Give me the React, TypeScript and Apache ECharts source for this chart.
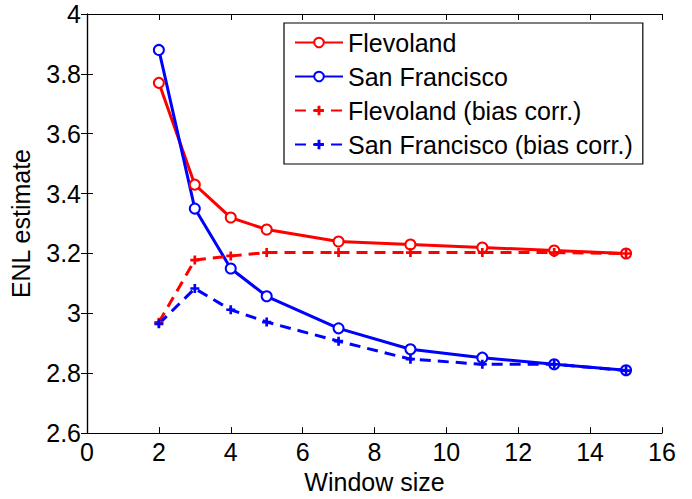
import React, { useEffect, useRef } from "react";
import * as echarts from "echarts";

const windowSizes = [2, 3, 4, 5, 7, 9, 11, 13, 15];
const flevoland = [3.77, 3.43, 3.32, 3.28, 3.24, 3.23, 3.22, 3.21, 3.2];
const sanFrancisco = [3.88, 3.35, 3.15, 3.057, 2.95, 2.88, 2.852, 2.83, 2.81];
const flevolandBias = [2.97, 3.178, 3.192, 3.203, 3.203, 3.203, 3.203, 3.203, 3.2];
const sanFranciscoBias = [2.965, 3.083, 3.012, 2.971, 2.907, 2.847, 2.83, 2.83, 2.809];
const seriesNames = ["Flevoland", "San Francisco", "Flevoland (bias corr.)", "San Francisco (bias corr.)"];

const PLUS = "path://M3.5,0H6.5V3.5H10V6.5H6.5V10H3.5V6.5H0V3.5H3.5Z";
const FONT = "Liberation Sans";

export default function App() {
  const ref = useRef<HTMLDivElement>(null);
  useEffect(() => {
    const chart = echarts.init(ref.current!, null, { renderer: "svg" });
    const pairs = (ys: number[]) => windowSizes.map((x, i) => [x, ys[i]]);
    const mk = (name: string, ys: number[], color: string, dashed: boolean) => ({
      name,
      type: "line",
      data: pairs(ys),
      symbol: dashed ? PLUS : "emptyCircle",
      symbolSize: dashed ? 9 : 10,
      showSymbol: true,
      lineStyle: { color, width: 3, type: dashed ? [11, 7] : "solid" },
      itemStyle: dashed ? { color } : { color, borderColor: color, borderWidth: 2.5 },
      z: dashed ? 3 : 2,
    });
    const tickStyle = { show: true, inside: true, length: 6, lineStyle: { color: "#000", width: 1 } };
    const lineStyle = { show: true, lineStyle: { color: "#000", width: 1.2 } };
    chart.setOption({
      animation: false,
      backgroundColor: "#fff",
      textStyle: { fontFamily: FONT },
      grid: { left: 87, top: 14, right: 30, bottom: 62 },
      legend: {
        orient: "vertical",
        left: 284,
        top: 23,
        padding: [7, 10, 7, 10],
        borderColor: "#000",
        borderWidth: 1.2,
        backgroundColor: "#fff",
        itemWidth: 48,
        itemHeight: 12,
        itemGap: 9,
        data: seriesNames,
        textStyle: { fontFamily: FONT, fontSize: 25, color: "#000" },
      },
      xAxis: [
        {
          type: "value",
          min: 0,
          max: 16,
          interval: 2,
          name: "Window size",
          nameLocation: "middle",
          nameGap: 31,
          nameTextStyle: { fontFamily: FONT, fontSize: 25, color: "#000" },
          axisLine: lineStyle,
          axisTick: tickStyle,
          axisLabel: { fontFamily: FONT, fontSize: 25, color: "#000", margin: 6 },
          splitLine: { show: false },
        },
        {
          type: "value",
          position: "top",
          min: 0,
          max: 16,
          interval: 2,
          axisLine: lineStyle,
          axisTick: tickStyle,
          axisLabel: { show: false },
          splitLine: { show: false },
        },
      ],
      yAxis: [
        {
          type: "value",
          min: 2.6,
          max: 4,
          interval: 0.2,
          name: "ENL estimate",
          nameLocation: "middle",
          nameGap: 54,
          nameTextStyle: { fontFamily: FONT, fontSize: 25, color: "#000" },
          axisLine: lineStyle,
          axisTick: tickStyle,
          axisLabel: {
            fontFamily: FONT,
            fontSize: 25,
            color: "#000",
            margin: 6,
            formatter: (v: number) => (Math.abs(v - Math.round(v)) < 1e-9 ? String(Math.round(v)) : v.toFixed(1)),
          },
          splitLine: { show: false },
        },
        {
          type: "value",
          position: "right",
          min: 2.6,
          max: 4,
          interval: 0.2,
          axisLine: lineStyle,
          axisTick: tickStyle,
          axisLabel: { show: false },
          splitLine: { show: false },
        },
      ],
      series: [
        mk(seriesNames[0], flevoland, "#ff0000", false),
        mk(seriesNames[1], sanFrancisco, "#0000ff", false),
        mk(seriesNames[2], flevolandBias, "#ff0000", true),
        mk(seriesNames[3], sanFranciscoBias, "#0000ff", true),
      ],
    });
    return () => chart.dispose();
  }, []);
  return <div ref={ref} style={{ width: 692, height: 499, position: "absolute", left: 0, top: 0 }} />;
}
